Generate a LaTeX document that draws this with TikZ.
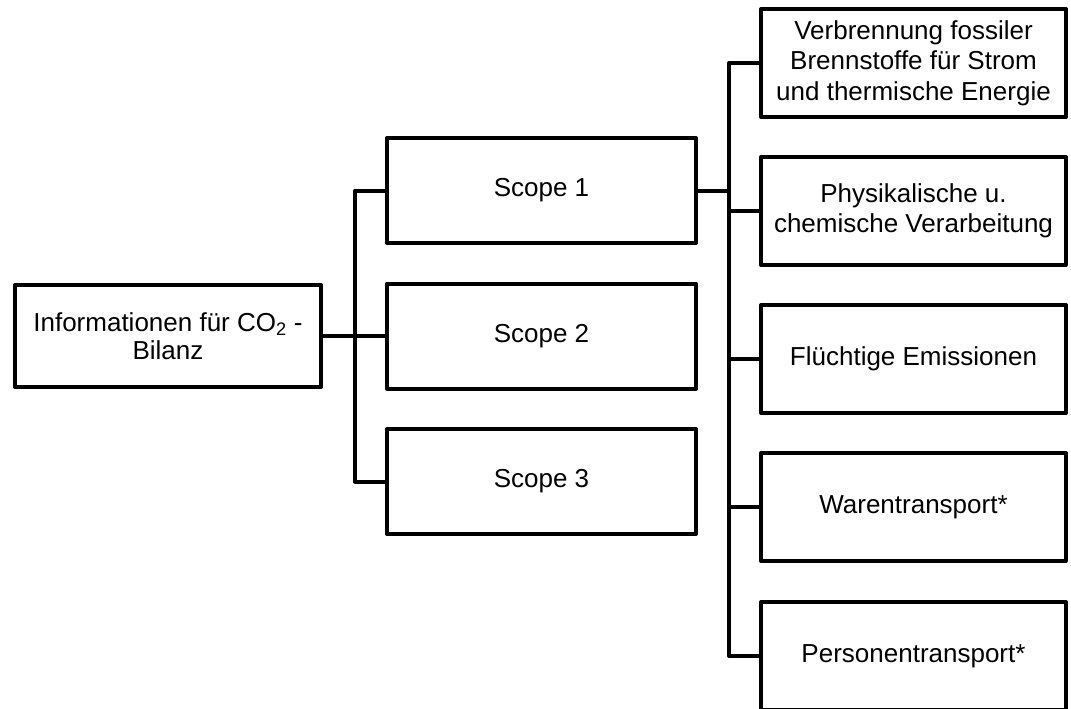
\documentclass[tikz,border=0pt]{standalone}
\usepackage{fontspec}
\setmainfont{Liberation Sans}
\begin{document}
\begin{tikzpicture}[x=1pt,y=-1pt,
  box/.style={draw=black, line width=4pt, line join=round, fill=white,
    rectangle, inner sep=0pt, align=center,
    font=\fontsize{26}{30.5}\selectfont},
  rootbox/.style={box, minimum width=306pt, minimum height=102pt,
    font=\fontsize{26}{28}\selectfont},
  scopebox/.style={box, minimum width=309pt, minimum height=105pt},
  itembox/.style={box, minimum width=305pt, minimum height=108pt},
  link/.style={draw=black, line width=4pt, line join=round}]
\useasboundingbox (0,0) rectangle (1071,709);

% root
\node[rootbox] (root) at (168,336) {Informationen für CO\textsubscript{2} -\\Bilanz};

% scopes
\node[scopebox] (s1) at (541.5,190.5) {Scope 1};
\node[scopebox] (s2) at (541.5,336) {Scope 2};
\node[scopebox] (s3) at (541.5,481.5) {Scope 3};

% scope 1 categories
\node[itembox] (c1) at (913.5,63) {Verbrennung fossiler\\Brennstoffe für Strom\\und thermische Energie};
\node[itembox] (c2) at (913.5,211) {Physikalische u.\\chemische Verarbeitung};
\node[itembox] (c3) at (913.5,359) {Flüchtige Emissionen};
\node[itembox] (c4) at (913.5,507) {Warentransport*};
\node[itembox] (c5) at (913.5,656) {Personentransport*};

% bus lines
\coordinate (busA) at (355,0);
\coordinate (busB) at (729,0);

\draw[link] (root.east) -- (s2.west);
\draw[link] (s1.west) -- (s1.west -| busA) -- (s3.west -| busA) -- (s3.west);

\draw[link] (s1.east) -- (s1.east -| busB);
\draw[link] (c1.west) -- (c1.west -| busB) -- (c5.west -| busB) -- (c5.west);
\draw[link] (c2.west) -- (c2.west -| busB);
\draw[link] (c3.west) -- (c3.west -| busB);
\draw[link] (c4.west) -- (c4.west -| busB);
\end{tikzpicture}
\end{document}
